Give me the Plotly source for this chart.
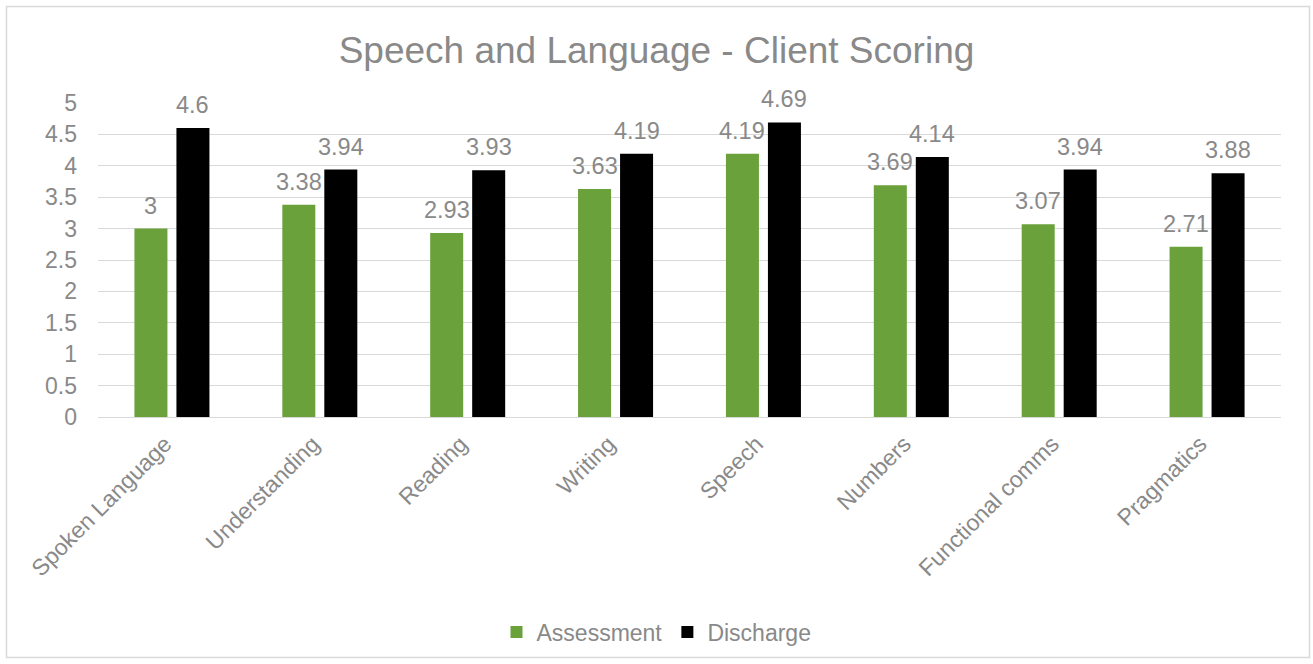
import plotly.graph_objects as go

categories = ["Spoken Language", "Understanding", "Reading", "Writing",
              "Speech", "Numbers", "Functional comms", "Pragmatics"]
assessment = [3, 3.38, 2.93, 3.63, 4.19, 3.69, 3.07, 2.71]
discharge = [4.6, 3.94, 3.93, 4.19, 4.69, 4.14, 3.94, 3.88]
y_ticks = [0, 0.5, 1, 1.5, 2, 2.5, 3, 3.5, 4, 4.5, 5]

GREEN = "#6AA13A"
TEXT = "#898989"
GRID = "#D9D9D9"
FONT = "Liberation Sans, Arial, sans-serif"

W, H = 1313, 664
L, R, T, B = 98, 32, 103, 247
plot_w = W - L - R
plot_h = H - T - B

fig = go.Figure()
fig.add_trace(go.Bar(name="Assessment", x=categories, y=assessment,
                     marker=dict(color=GREEN, line=dict(width=0))))
fig.add_trace(go.Bar(name="Discharge", x=categories, y=discharge,
                     marker=dict(color="#000000", line=dict(width=0))))

# value labels above each bar
slot = plot_w / len(categories) * (1 - 0.432) / 2
annotations = []
for series, shift in ((assessment, -slot / 2), (discharge, slot / 2)):
    for cat, val in zip(categories, series):
        annotations.append(dict(
            x=cat, y=val, xref="x", yref="y", text=f"{val:g}",
            showarrow=False, xshift=shift, yanchor="bottom", yshift=8,
            font=dict(size=23.5, color=TEXT, family=FONT)))

fig.update_layout(
    width=W, height=H,
    margin=dict(l=L, r=R, t=T, b=B, autoexpand=False),
    paper_bgcolor="white", plot_bgcolor="white",
    barmode="group", bargap=0.432, bargroupgap=0.214,
    font=dict(family=FONT, color=TEXT, size=23),
    title=dict(text="Speech and Language - Client Scoring",
               x=0.5, xanchor="center", xref="container",
               y=1 - 50 / H, yanchor="middle", yref="container",
               font=dict(size=37, color=TEXT, family=FONT)),
    showlegend=True,
    legend=dict(orientation="h", x=(W / 2 - L) / plot_w, xanchor="center",
                y=-(632 - T - plot_h) / plot_h, yanchor="middle",
                font=dict(size=23, color=TEXT), itemwidth=30,
                traceorder="normal"),
    annotations=annotations,
    shapes=[dict(type="rect", xref="paper", yref="paper",
                 x0=(6.5 - L) / plot_w, x1=(1309.5 - L) / plot_w,
                 y0=-(657.5 - T - plot_h) / plot_h, y1=(T + plot_h - 6.5) / plot_h,
                 line=dict(color=GRID, width=1.5), layer="below")],
)

fig.update_xaxes(tickangle=-45, showgrid=False, showline=False, ticks="",
                 ticklabelstandoff=8, ticklabelshift=-7,
                 tickfont=dict(size=23, color=TEXT))
fig.update_yaxes(range=[0, 5], tickvals=y_ticks, ticktext=[f"{v:g}" for v in y_ticks],
                 showgrid=True, gridcolor=GRID, gridwidth=1.3,
                 zeroline=True, zerolinecolor=GRID, zerolinewidth=1.3,
                 showline=False, ticks="", ticklabelstandoff=20,
                 tickfont=dict(size=23, color=TEXT))

fig.write_html("out.html")
